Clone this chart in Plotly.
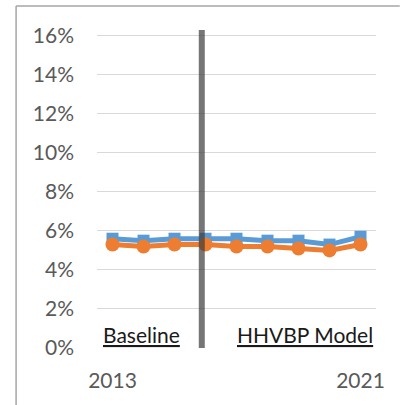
import plotly.graph_objects as go

years = [2013, 2014, 2015, 2016, 2017, 2018, 2019, 2020, 2021]
series_blue = [0.056, 0.055, 0.056, 0.056, 0.056, 0.055, 0.055, 0.053, 0.057]
series_orange = [0.053, 0.052, 0.053, 0.053, 0.052, 0.052, 0.051, 0.050, 0.053]
x_tick_vals = [2013, 2021]
x_tick_text = ["2013", "2021"]
y_tick_vals = [0, 0.02, 0.04, 0.06, 0.08, 0.10, 0.12, 0.14, 0.16]

divider_year = 2015.88
divider_top = 0.163

FONT = "Lato, 'Open Sans', sans-serif"
BLUE = "#5B9BD5"
ORANGE = "#ED7D31"

fig = go.Figure()
fig.add_trace(go.Scatter(
    x=years, y=series_blue, mode="lines+markers",
    line=dict(color=BLUE, width=5),
    marker=dict(symbol="square", size=12, color=BLUE),
    showlegend=False, hoverinfo="skip",
))
fig.add_trace(go.Scatter(
    x=years, y=series_orange, mode="lines+markers",
    line=dict(color=ORANGE, width=5),
    marker=dict(symbol="circle", size=14, color=ORANGE),
    showlegend=False, hoverinfo="skip",
))

# divider between baseline period and model period
fig.add_shape(type="line", xref="x", yref="y",
              x0=divider_year, x1=divider_year, y0=0, y1=divider_top,
              line=dict(color="rgba(60,60,60,0.7)", width=6), layer="above")

# chart frame: left and top edges
frame = dict(color="#a6a6a6", width=1.5)
fig.add_shape(type="line", xref="paper", yref="paper",
              x0=-0.29, x1=-0.29, y0=-0.18, y1=1.062, line=frame, layer="below")
fig.add_shape(type="line", xref="paper", yref="paper",
              x0=-0.29, x1=1.085, y0=1.062, y1=1.062, line=frame, layer="below")

fig.add_annotation(x=2012.62, y=0.0069, xref="x", yref="y",
                   text="<u>Baseline</u>", showarrow=False,
                   xanchor="left", yanchor="middle",
                   font=dict(family=FONT, size=21, color="#1a1a1a"))
fig.add_annotation(x=2021.48, y=0.0069, xref="x", yref="y",
                   text="<u>HHVBP Model</u>", showarrow=False,
                   xanchor="right", yanchor="middle",
                   font=dict(family=FONT, size=21, color="#1a1a1a"))

fig.update_layout(
    width=400, height=405,
    margin=dict(l=97, r=24, t=26, b=57),
    paper_bgcolor="white", plot_bgcolor="white",
    font=dict(family=FONT, size=21, color="#595959"),
    xaxis=dict(range=[2012.5, 2021.5], tickvals=x_tick_vals, ticktext=x_tick_text,
               showgrid=False, zeroline=False, showline=False, ticks="",
               ticklabelstandoff=18, fixedrange=True),
    yaxis=dict(range=[0, 0.165], tickvals=y_tick_vals, tickformat=".0%",
               showgrid=True, gridcolor="#d9d9d9", gridwidth=1.2,
               zeroline=False, showline=False, ticks="",
               ticklabelstandoff=22, fixedrange=True),
)

fig.write_html("out.html", config={"displayModeBar": False})
